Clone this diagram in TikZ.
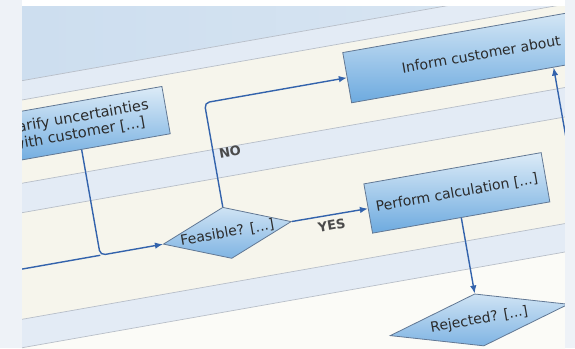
\documentclass[tikz,border=0pt]{standalone}
\usepackage{fontspec}
\setmainfont{DejaVu Sans}
\usetikzlibrary{positioning,arrows.meta,shapes.geometric}
\definecolor{flowblue}{HTML}{3363AC}
\definecolor{taskedge}{HTML}{627894}
\definecolor{taskhi}{HTML}{DCEBF7}
\definecolor{tasklo}{HTML}{6DAADF}
\definecolor{gatehi}{HTML}{CFE3F4}
\definecolor{gatelo}{HTML}{7FB4E3}
\definecolor{txt}{HTML}{2B2B2B}
\definecolor{poolhead}{HTML}{C8DBEE}
\definecolor{poolheadlt}{HTML}{DDE8F3}
\definecolor{laneband}{HTML}{E3EBF5}
\definecolor{lanefill}{HTML}{F6F5EC}
\definecolor{laneline}{HTML}{B7BEC8}
\definecolor{sidepanel}{HTML}{EEF2F7}
\tikzset{
  task/.style={draw=taskedge,line width=0.8pt,top color=taskhi,bottom color=tasklo,
    minimum width=180pt,minimum height=48pt,inner sep=3pt,align=center,
    text=txt,font=\fontsize{14}{16}\selectfont},
  gate/.style={diamond,aspect=2.5,draw=taskedge,line width=0.8pt,top color=gatehi,
    bottom color=gatelo,inner sep=0pt,text=txt,font=\fontsize{14}{16}\selectfont},
  flowln/.style={-{Latex[length=8pt,width=6.5pt]},draw=flowblue,line width=1.4pt,
    rounded corners=5pt},
  flowseg/.style={draw=flowblue,line width=1.4pt},
  guard/.style={text=txt!85,font=\bfseries\fontsize{13}{15}\selectfont,inner sep=5pt},
  sepln/.style={draw=laneline,line width=0.7pt},
}
\begin{document}
\begin{tikzpicture}[x=1pt,y=-1pt]
  \useasboundingbox (0,0) rectangle (575,348);
  \begin{scope}
    \clip (22,6) rectangle (565,348);
    \begin{scope}[rotate around={10:(287.5,174)},transform shape]
      % pool header and lanes
      \shade[left color=poolhead,right color=poolheadlt] (-120,-200) rectangle (760,36);
      \fill[laneband] (-120,36) rectangle (760,55);
      \fill[lanefill] (-120,55) rectangle (760,137);
      \fill[laneband] (-120,137) rectangle (760,166);
      \fill[lanefill] (-120,166) rectangle (760,271);
      \fill[laneband] (-120,271) rectangle (760,299);
      \fill[white!60!lanefill] (-120,299) rectangle (760,560);
      \foreach \y in {36,55,137,166,271,299}
        \draw[sepln] (-120,\y) -- (760,\y);

      \node[task,font=\fontsize{14.6}{16.5}\selectfont] (clarify) at (89,90) {Clarify uncertainties\\with customer [...]};
      \node[task,minimum width=272pt,minimum height=51pt] (inform) at (499,89.5) {Inform customer about};
      \node[gate,minimum width=130pt,minimum height=52pt] (feasible) at (218,221.5) {Feasible? [...]};
      \node[task,minimum height=50pt] (perform) at (451,222) {Perform calculation [...]};
      \node[gate,minimum width=181pt,minimum height=51pt] (rejected) at (451,351) {Rejected? [...]};

      \coordinate (inflow) at (-120,221.5);
      \coordinate (backflow) at (568,520);

      \draw[flowseg] (inflow) -- (clarify.south |- feasible.west);
      \draw[flowln] (clarify.south) |- (feasible.west);
      \draw[flowln] (feasible.north) |- node[guard,pos=.25,right]{NO} (inform.west);
      \draw[flowln] (feasible.east) -- node[guard,below]{YES} (perform.west);
      \draw[flowln] (perform.south) -- (perform.south |- rejected.north);
      \draw[flowln] (backflow) -- (backflow |- inform.south);
    \end{scope}
  \end{scope}
  \fill[sidepanel] (0,0) rectangle (22,348);
  \fill[sidepanel] (565,0) rectangle (575,348);
  \fill[white] (22,0) rectangle (565,6);
\end{tikzpicture}
\end{document}
